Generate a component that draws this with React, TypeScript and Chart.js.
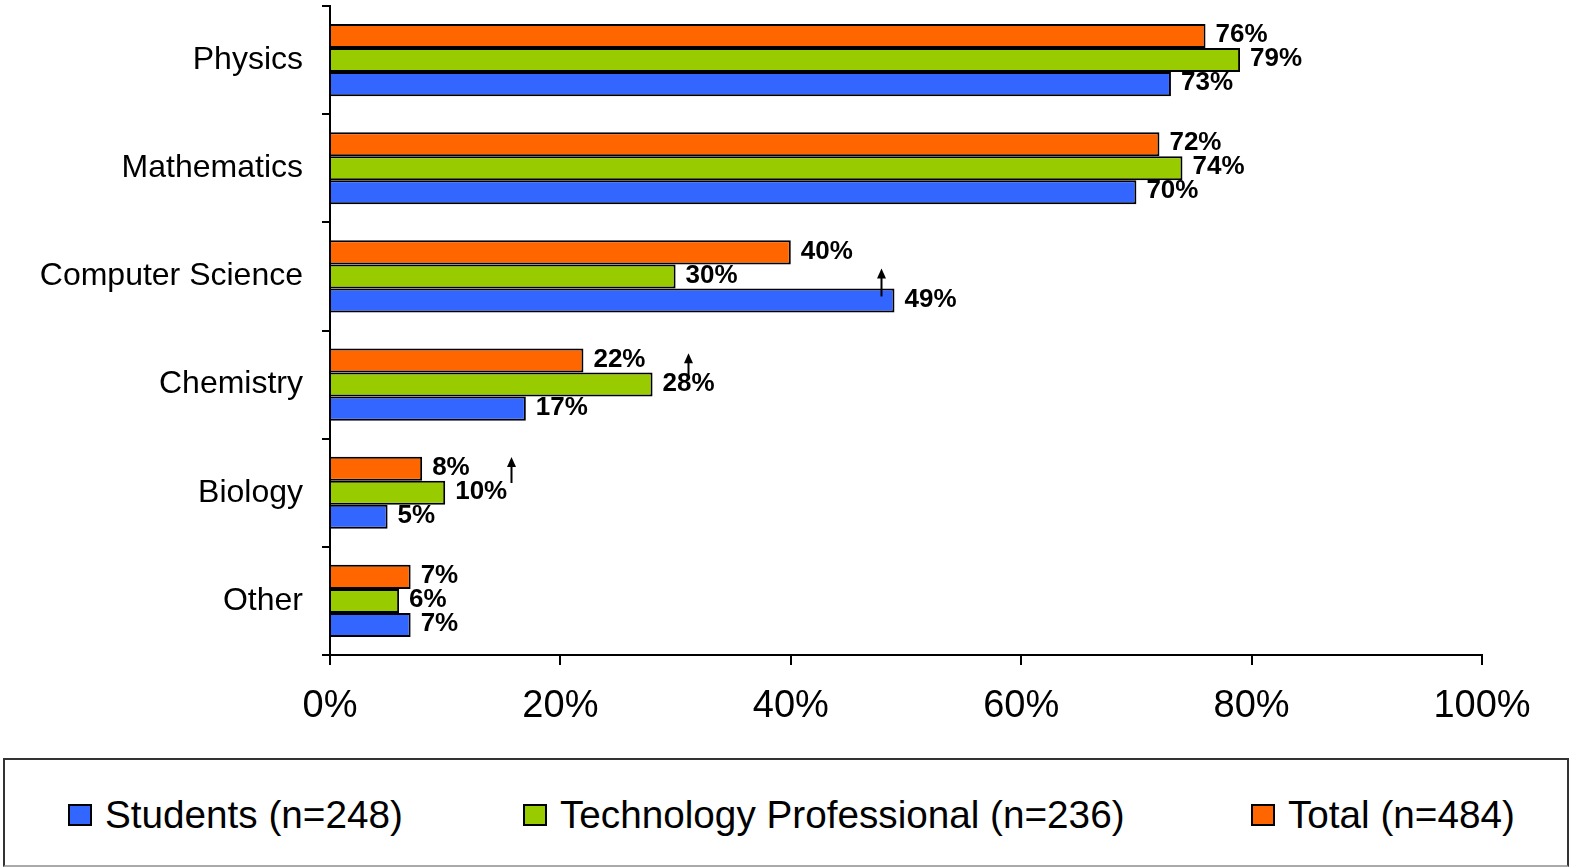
import React, { useEffect, useRef } from "react";
import { Chart, registerables } from "chart.js";

Chart.register(...registerables);

// ---------- data ----------
const categories = ["Physics", "Mathematics", "Computer Science", "Chemistry", "Biology", "Other"];
const studentsValues = [73, 70, 49, 17, 5, 7];
const techValues = [79, 74, 30, 28, 10, 6];
const totalValues = [76, 72, 40, 22, 8, 7];
const studentsLabel = "Students (n=248)";
const techLabel = "Technology Professional (n=236)";
const totalLabel = "Total (n=484)";
const xTickValues = [0, 20, 40, 60, 80, 100];
// up-arrow annotations: x value (%) and vertical extent in category units
const arrowValues = [47.8, 31.1, 15.7];
const arrowFrom = [2.185, 2.93, 3.91];
const arrowTo = [1.926, 2.71, 3.67];

// ---------- styles ----------
const FONT = "'Liberation Sans', Arial, Helvetica, sans-serif";
const BLUE = "#3366FF";
const GREEN = "#99CC00";
const ORANGE = "#FF6600";

const valueLabelsPlugin = {
  id: "valueLabels",
  afterDatasetsDraw(chart: any) {
    const ctx = chart.ctx;
    ctx.save();
    ctx.font = `bold 26px ${FONT}`;
    ctx.fillStyle = "#000";
    ctx.textAlign = "left";
    ctx.textBaseline = "middle";
    chart.data.datasets.forEach((ds: any, di: number) => {
      const meta = chart.getDatasetMeta(di);
      meta.data.forEach((el: any, i: number) => {
        ctx.fillText(ds.data[i] + "%", el.x + 10, el.y - 1);
      });
    });
    ctx.restore();
  },
};

const arrowsPlugin = {
  id: "arrows",
  afterDraw(chart: any) {
    const ctx = chart.ctx;
    const xs = chart.scales.x;
    const ys = chart.scales.y;
    ctx.save();
    ctx.strokeStyle = "#000";
    ctx.fillStyle = "#000";
    ctx.lineWidth = 2;
    arrowValues.forEach((v, k) => {
      const px = Math.round(xs.getPixelForValue(v)) + 0.5;
      const y0 = ys.getPixelForValue(arrowFrom[k]);
      const y1 = ys.getPixelForValue(arrowTo[k]);
      ctx.beginPath();
      ctx.moveTo(px, y0);
      ctx.lineTo(px, y1 + 6);
      ctx.stroke();
      ctx.beginPath();
      ctx.moveTo(px, y1);
      ctx.lineTo(px - 4.5, y1 + 10);
      ctx.lineTo(px + 4.5, y1 + 10);
      ctx.closePath();
      ctx.fill();
    });
    ctx.restore();
  },
};

function BarChart() {
  const ref = useRef<HTMLCanvasElement | null>(null);
  useEffect(() => {
    if (!ref.current) return;
    const chart = new Chart(ref.current, {
      type: "bar",
      data: {
        labels: categories,
        datasets: [
          { label: totalLabel, data: totalValues, backgroundColor: ORANGE, borderColor: "#000", borderWidth: 2 },
          { label: techLabel, data: techValues, backgroundColor: GREEN, borderColor: "#000", borderWidth: 2 },
          { label: studentsLabel, data: studentsValues, backgroundColor: BLUE, borderColor: "#000", borderWidth: 2 },
        ],
      },
      options: {
        indexAxis: "y",
        responsive: false,
        animation: false,
        devicePixelRatio: 1,
        layout: { padding: { top: 6, right: 90, left: 0, bottom: 0 } },
        datasets: { bar: { categoryPercentage: 0.667, barPercentage: 1 } },
        plugins: {
          legend: { display: false },
          tooltip: { enabled: false },
        },
        scales: {
          x: {
            type: "linear",
            min: 0,
            max: 100,
            afterBuildTicks: (s: any) => {
              s.ticks = xTickValues.map((v) => ({ value: v }));
            },
            afterFit: (s: any) => {
              s.height = 90;
              s.paddingLeft = 0;
              s.paddingRight = 0;
            },
            ticks: {
              callback: (v: any) => v + "%",
              color: "#000",
              font: { family: FONT, size: 38 },
              padding: 19,
              maxRotation: 0,
            },
            grid: { drawOnChartArea: false, drawTicks: true, tickLength: 10, color: "#000", lineWidth: 2 },
            border: { display: true, color: "#000", width: 2 },
          },
          y: {
            type: "category",
            afterFit: (s: any) => {
              s.width = 330;
              s.paddingTop = 0;
              s.paddingBottom = 0;
            },
            ticks: {
              color: "#000",
              font: { family: FONT, size: 32 },
              padding: 19,
            },
            grid: { offset: true, drawOnChartArea: false, drawTicks: true, tickLength: 8, color: "#000", lineWidth: 2 },
            border: { display: true, color: "#000", width: 2 },
          },
        },
      },
      plugins: [valueLabelsPlugin, arrowsPlugin],
    } as any);
    return () => chart.destroy();
  }, []);
  return (
    <canvas
      ref={ref}
      width={1572}
      height={745}
      style={{ position: "absolute", left: 0, top: 0, width: 1572, height: 745 }}
    />
  );
}

const legendItems = [
  { label: studentsLabel, color: BLUE, left: 68 },
  { label: techLabel, color: GREEN, left: 523 },
  { label: totalLabel, color: ORANGE, left: 1251 },
];

export default function App() {
  return (
    <div style={{ position: "absolute", left: 0, top: 0, width: 1572, height: 867, overflow: "hidden", background: "#fff" }}>
      <BarChart />
      <div
        style={{
          position: "absolute",
          left: 3,
          top: 758,
          width: 1562,
          height: 105,
          borderTop: "2px solid #333",
          borderLeft: "2px solid #333",
          borderRight: "2px solid #333",
          borderBottom: "2px solid #aaa",
        }}
      />
      {legendItems.map((it) => (
        <div
          key={it.label}
          style={{
            position: "absolute",
            left: it.left,
            top: 790,
            height: 50,
            display: "flex",
            alignItems: "center",
            whiteSpace: "nowrap",
            fontFamily: FONT,
            fontSize: 38.7,
            lineHeight: 1,
            color: "#000",
          }}
        >
          <span
            style={{
              display: "inline-block",
              width: 20,
              height: 18,
              background: it.color,
              border: "2px solid #000",
              marginRight: 13,
            }}
          />
          <span>{it.label}</span>
        </div>
      ))}
    </div>
  );
}
